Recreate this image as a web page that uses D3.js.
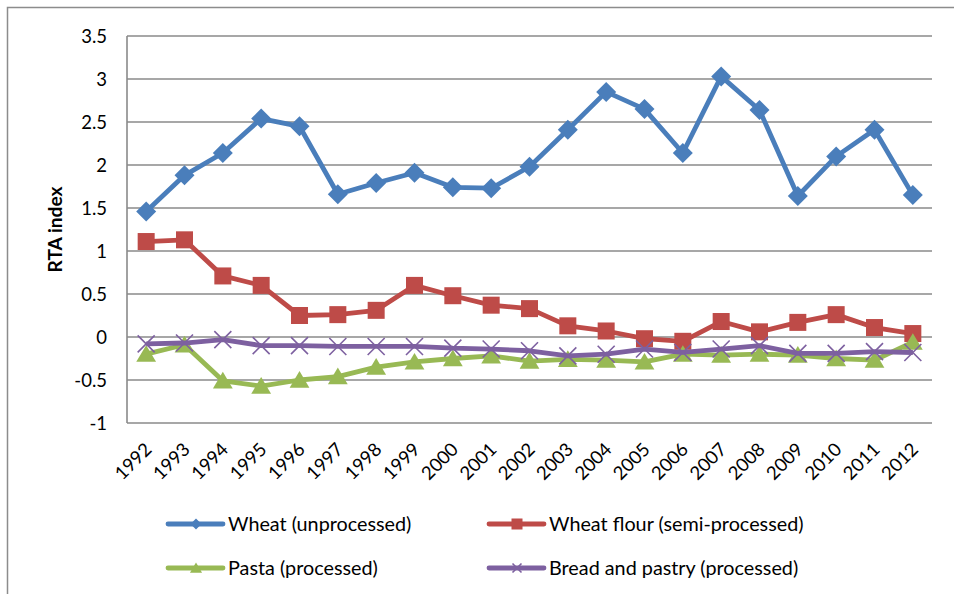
<!DOCTYPE html>
<html><head><meta charset="utf-8">
<script src="https://cdn.jsdelivr.net/npm/d3@7/dist/d3.min.js"></script>
<style>
html,body{margin:0;padding:0;background:#fff;overflow:hidden}
text{font-family:Lato,"Liberation Sans",sans-serif;fill:#000}
</style></head>
<body><svg id="c" width="954" height="594"></svg>
<script>
const years = ["1992","1993","1994","1995","1996","1997","1998","1999","2000","2001","2002","2003","2004","2005","2006","2007","2008","2009","2010","2011","2012"];
const wheat = [1.46,1.88,2.14,2.54,2.45,1.66,1.79,1.91,1.74,1.73,1.98,2.41,2.85,2.65,2.14,3.03,2.64,1.64,2.10,2.41,1.65];
const wheatFlour = [1.11,1.13,0.71,0.60,0.25,0.26,0.31,0.60,0.48,0.37,0.33,0.13,0.07,-0.02,-0.05,0.18,0.06,0.17,0.26,0.11,0.04];
const pasta = [-0.20,-0.09,-0.51,-0.57,-0.50,-0.46,-0.35,-0.29,-0.25,-0.22,-0.28,-0.26,-0.27,-0.29,-0.20,-0.21,-0.20,-0.21,-0.25,-0.27,-0.06];
const bread = [-0.08,-0.07,-0.03,-0.10,-0.10,-0.11,-0.11,-0.11,-0.13,-0.14,-0.16,-0.22,-0.20,-0.14,-0.18,-0.14,-0.10,-0.19,-0.19,-0.17,-0.18];
const yTicks = [-1,-0.5,0,0.5,1,1.5,2,2.5,3,3.5];
const seriesNames = ["Wheat (unprocessed)","Wheat flour (semi-processed)","Pasta (processed)","Bread and pastry (processed)"];

const series = [
  {name:seriesNames[0], values:wheat, color:"#4A7EBB", marker:"diamond"},
  {name:seriesNames[1], values:wheatFlour, color:"#BE4B48", marker:"square"},
  {name:seriesNames[2], values:pasta, color:"#98B954", marker:"triangle"},
  {name:seriesNames[3], values:bread, color:"#7D60A0", marker:"x"}
];

const svg = d3.select("#c");
const L=127, R=932, T=36, B=423;

// outer chart border
svg.append("rect").attr("x",7.5).attr("y",7.5).attr("width",1000).attr("height",1000)
  .attr("fill","none").attr("stroke","#8c8c8c").attr("stroke-width",1.5);

const x = d3.scaleBand().domain(years).range([L,R]).paddingInner(0).paddingOuter(0);
const y = d3.scaleLinear().domain([-1,3.5]).range([B,T]);
const cx = d => x(d)+x.bandwidth()/2;

// gridlines
svg.append("g").selectAll("line").data(yTicks).join("line")
  .attr("x1",L).attr("x2",R).attr("y1",d=>y(d)).attr("y2",d=>y(d))
  .attr("stroke","#8a8a8a").attr("stroke-width",1.6);
// left axis line
svg.append("line").attr("x1",L).attr("x2",L).attr("y1",T).attr("y2",B)
  .attr("stroke","#8a8a8a").attr("stroke-width",1.6);

// y axis labels
const yAxis = d3.axisLeft(y).tickValues(yTicks).tickSize(0).tickPadding(20).tickFormat(d=>String(d));
const gy = svg.append("g").attr("transform",`translate(${L},0)`).call(yAxis);
gy.select(".domain").remove();
gy.selectAll("text").style("font-size","18.5px").attr("dy","0.35em");

// x axis labels
const xAxis = d3.axisBottom(x).tickSize(0).tickPadding(0);
const gx = svg.append("g").attr("transform",`translate(0,${B})`).call(xAxis);
gx.select(".domain").remove();
gx.selectAll("text").style("font-size","18.5px")
  .attr("text-anchor","end")
  .attr("dy","0.35em")
  .attr("transform","translate(2,23) rotate(-45)")
  .attr("y",0).attr("x",0);

// y title
svg.append("text").attr("transform",`translate(62,${(T+B)/2}) rotate(-90)`)
  .attr("text-anchor","middle").style("font-size","19.2px").style("font-weight","bold").text("RTA index");

function drawMarker(g, type, color, s){
  if(type==="diamond"){
    g.append("path").attr("d",`M0,${-s}L${s},0L0,${s}L${-s},0Z`).attr("fill",color);
  } else if(type==="square"){
    g.append("rect").attr("x",-s).attr("y",-s).attr("width",2*s).attr("height",2*s).attr("fill",color);
  } else if(type==="triangle"){
    g.append("path").attr("d",`M0,${-s}L${s*1.1},${s*0.85}L${-s*1.1},${s*0.85}Z`).attr("fill",color);
  } else {
    g.append("path").attr("d",`M${-s},${-s}L${s},${s}M${s},${-s}L${-s},${s}`).attr("stroke",color).attr("stroke-width",1.6).attr("fill","none");
  }
}
const msize = {diamond:10, square:8.5, triangle:9, x:8.5};

const line = d3.line().x((d,i)=>cx(years[i])).y(d=>y(d));
series.forEach(s=>{
  const g = svg.append("g");
  g.append("path").datum(s.values).attr("d",line).attr("fill","none")
    .attr("stroke",s.color).attr("stroke-width",4.8).attr("stroke-linejoin","round");
  s.values.forEach((v,i)=>{
    const m = g.append("g").attr("transform",`translate(${cx(years[i])},${y(v)})`);
    drawMarker(m,s.marker,s.color,msize[s.marker]);
  });
});

// legend
const legPos = [[168,524],[489,524],[168,568],[489,568]];
series.forEach((s,i)=>{
  const [lx,ly]=legPos[i];
  const g = svg.append("g");
  g.append("line").attr("x1",lx).attr("x2",lx+55).attr("y1",ly).attr("y2",ly)
    .attr("stroke",s.color).attr("stroke-width",4.8).attr("stroke-linecap","round");
  const m = g.append("g").attr("transform",`translate(${lx+28},${ly})`);
  drawMarker(m,s.marker,s.color,s.marker==="x"?4.5:s.marker==="square"?5.5:5.5);
  g.append("text").attr("x",lx+60).attr("y",ly).attr("dy","0.35em").style("font-size","19.8px").text(s.name);
});
</script></body></html>
